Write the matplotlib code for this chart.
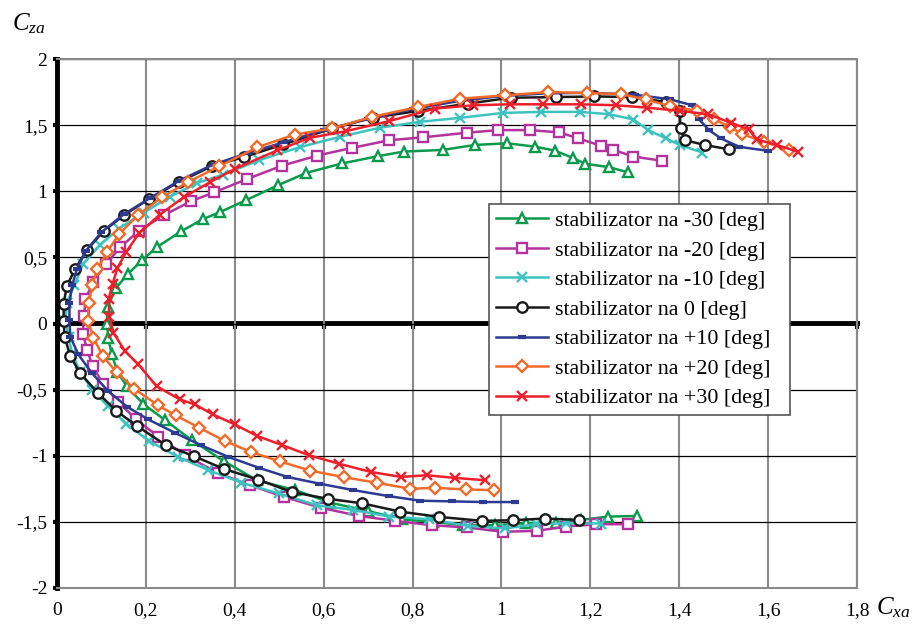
import numpy as np
import matplotlib
matplotlib.use("Agg")
import matplotlib.pyplot as plt

plt.rcParams['font.family'] = ['Liberation Serif', 'DejaVu Serif']
plt.rcParams['mathtext.fontset'] = 'custom'
plt.rcParams['mathtext.rm'] = 'Liberation Serif'
plt.rcParams['mathtext.it'] = 'Liberation Serif:italic'

# Cxa / Cza polars, one per stabilizer setting (lower branch -> nose -> upper branch)
cx_m30 = [1.305, 1.24, 1.18, 1.122, 1.055, 0.985, 0.914, 0.845, 0.776, 0.699, 0.615, 0.536,
          0.45, 0.375, 0.303, 0.243, 0.193, 0.157, 0.136, 0.123, 0.115, 0.113, 0.114, 0.133,
          0.16, 0.191, 0.224, 0.279, 0.329, 0.366, 0.425, 0.497, 0.561, 0.641, 0.722, 0.78,
          0.868, 0.94, 1.013, 1.075, 1.12, 1.162, 1.189, 1.242, 1.285]
cz_m30 = [-1.455, -1.46, -1.485, -1.51, -1.51, -1.525, -1.525, -1.5, -1.48, -1.4175, -1.355, -1.26,
          -1.186, -1.04, -0.882, -0.73, -0.605, -0.474, -0.368, -0.229, -0.108, 0.0, 0.126, 0.27,
          0.376, 0.477, 0.576, 0.697, 0.79, 0.841, 0.932, 1.045, 1.139, 1.21, 1.265, 1.30,
          1.3125, 1.35, 1.3625, 1.3375, 1.3075, 1.25, 1.2075, 1.1825, 1.1425]

cx_m20 = [1.284, 1.213, 1.146, 1.08, 1.004, 0.923, 0.843, 0.761, 0.679, 0.593, 0.511, 0.434,
          0.363, 0.288, 0.228, 0.178, 0.138, 0.104, 0.08, 0.068, 0.058, 0.061, 0.064, 0.081,
          0.111, 0.142, 0.185, 0.24, 0.301, 0.354, 0.428, 0.507, 0.586, 0.664, 0.748, 0.823,
          0.922, 0.993, 1.064, 1.13, 1.173, 1.225, 1.252, 1.297, 1.362]
cz_m20 = [-1.5175, -1.5175, -1.535, -1.5675, -1.575, -1.5425, -1.525, -1.4925, -1.455, -1.3925, -1.312, -1.222,
          -1.133, -0.995, -0.856, -0.725, -0.594, -0.461, -0.322, -0.20, -0.076, 0.056, 0.182, 0.316,
          0.452, 0.576, 0.702, 0.818, 0.924, 0.992, 1.093, 1.194, 1.27, 1.328, 1.386, 1.4075,
          1.4425, 1.4625, 1.4625, 1.445, 1.40, 1.3425, 1.3125, 1.2625, 1.23]

cx_m10 = [1.224, 1.146, 1.077, 1.008, 0.925, 0.836, 0.748, 0.667, 0.585, 0.499, 0.415, 0.34,
          0.273, 0.206, 0.156, 0.115, 0.079, 0.052, 0.034, 0.026, 0.019, 0.022, 0.039, 0.058,
          0.096, 0.139, 0.195, 0.255, 0.316, 0.374, 0.455, 0.546, 0.636, 0.726, 0.817, 0.907,
          1.004, 1.09, 1.177, 1.243, 1.297, 1.33, 1.37, 1.401, 1.452]
cz_m10 = [-1.5125, -1.51, -1.5175, -1.55, -1.53, -1.48, -1.46, -1.41, -1.375, -1.285, -1.204, -1.108,
          -1.01, -0.886, -0.758, -0.626, -0.5, -0.366, -0.227, -0.101, 0.018, 0.157, 0.288, 0.447,
          0.591, 0.717, 0.838, 0.96, 1.063, 1.126, 1.235, 1.333, 1.411, 1.48, 1.525, 1.555,
          1.5925, 1.60, 1.60, 1.5825, 1.5425, 1.4625, 1.40, 1.35, 1.2925]

cx_0 = [1.174, 1.097, 1.025, 0.957, 0.86, 0.772, 0.687, 0.609, 0.529, 0.452, 0.376, 0.308,
        0.245, 0.181, 0.133, 0.092, 0.052, 0.03, 0.017, 0.015, 0.015, 0.022, 0.041, 0.068,
        0.105, 0.151, 0.208, 0.274, 0.349, 0.42, 0.509, 0.619, 0.711, 0.813, 0.924, 1.021,
        1.122, 1.208, 1.294, 1.371, 1.401, 1.403, 1.412, 1.457, 1.512]
cz_0 = [-1.485, -1.475, -1.4875, -1.4925, -1.4625, -1.4225, -1.36, -1.325, -1.275, -1.18, -1.10, -1.003,
        -0.92, -0.777, -0.66, -0.525, -0.376, -0.247, -0.10, 0.018, 0.149, 0.283, 0.414, 0.558,
        0.70, 0.82, 0.943, 1.07, 1.19, 1.258, 1.354, 1.475, 1.556, 1.6075, 1.6625, 1.707,
        1.712, 1.717, 1.712, 1.675, 1.607, 1.475, 1.387, 1.35, 1.317]

cx_p10 = [1.03, 0.959, 0.888, 0.817, 0.746, 0.667, 0.589, 0.518, 0.455, 0.385, 0.325, 0.265,
          0.205, 0.158, 0.115, 0.078, 0.048, 0.03, 0.028, 0.028, 0.034, 0.045, 0.065, 0.10,
          0.15, 0.21, 0.275, 0.35, 0.43, 0.51, 0.60, 0.70, 0.80, 0.90, 1.0, 1.1,
          1.2, 1.3, 1.38, 1.428, 1.445, 1.467, 1.494, 1.535, 1.599]
cz_p10 = [-1.35, -1.35, -1.345, -1.34, -1.305, -1.26, -1.21, -1.16, -1.092, -1.008, -0.922, -0.826,
          -0.725, -0.63, -0.511, -0.373, -0.234, -0.10, 0.023, 0.152, 0.288, 0.414, 0.55, 0.69,
          0.825, 0.95, 1.08, 1.20, 1.29, 1.37, 1.46, 1.55, 1.62, 1.68, 1.72, 1.74,
          1.745, 1.73, 1.695, 1.651, 1.543, 1.462, 1.399, 1.336, 1.306]

cx_p20 = [0.983, 0.92, 0.851, 0.795, 0.721, 0.646, 0.57, 0.501, 0.437, 0.378, 0.32, 0.267,
          0.228, 0.174, 0.134, 0.103, 0.082, 0.07, 0.071, 0.079, 0.091, 0.112, 0.14, 0.183,
          0.237, 0.294, 0.365, 0.451, 0.535, 0.619, 0.709, 0.813, 0.907, 1.008, 1.105, 1.192,
          1.269, 1.325, 1.379, 1.44, 1.479, 1.514, 1.542, 1.59, 1.647]
cz_p20 = [-1.26, -1.255, -1.2425, -1.25, -1.205, -1.1625, -1.1125, -1.0425, -0.972, -0.889, -0.788, -0.695,
          -0.62, -0.494, -0.368, -0.247, -0.108, 0.022, 0.152, 0.288, 0.414, 0.538, 0.677, 0.823,
          0.957, 1.068, 1.189, 1.333, 1.429, 1.475, 1.563, 1.6375, 1.70, 1.725, 1.75, 1.7425,
          1.735, 1.694, 1.644, 1.608, 1.543, 1.487, 1.432, 1.374, 1.311]

cx_p30 = [0.963, 0.895, 0.832, 0.774, 0.706, 0.634, 0.566, 0.507, 0.45, 0.4, 0.351, 0.31,
          0.276, 0.224, 0.183, 0.153, 0.127, 0.118, 0.116, 0.125, 0.136, 0.155, 0.185, 0.231,
          0.286, 0.344, 0.4, 0.496, 0.569, 0.651, 0.747, 0.85, 0.937, 1.019, 1.093, 1.178,
          1.258, 1.327, 1.402, 1.464, 1.516, 1.557, 1.574, 1.621, 1.667]
cz_p30 = [-1.185, -1.1675, -1.1475, -1.16, -1.1225, -1.06, -0.995, -0.92, -0.85, -0.763, -0.688, -0.612,
          -0.574, -0.474, -0.31, -0.209, -0.07, 0.05, 0.182, 0.30, 0.42, 0.538, 0.684, 0.823,
          0.957, 1.068, 1.169, 1.31, 1.404, 1.455, 1.53, 1.625, 1.65, 1.6575, 1.6575, 1.6575,
          1.65, 1.6325, 1.6075, 1.583, 1.518, 1.467, 1.392, 1.349, 1.298]

labels = ['stabilizator na -30 [deg]', 'stabilizator na -20 [deg]', 'stabilizator na -10 [deg]',
          'stabilizator na 0 [deg]', 'stabilizator na +10 [deg]', 'stabilizator na +20 [deg]',
          'stabilizator na +30 [deg]']
xticks = [0, 0.2, 0.4, 0.6, 0.8, 1.0, 1.2, 1.4, 1.6, 1.8]
yticks = [-2, -1.5, -1, -0.5, 0, 0.5, 1, 1.5, 2]

series = [(cx_m30, cz_m30), (cx_m20, cz_m20), (cx_m10, cz_m10), (cx_0, cz_0),
          (cx_p10, cz_p10), (cx_p20, cz_p20), (cx_p30, cz_p30)]
colors = ['#0a9a4c', '#b4329e', '#3cc3c0', '#1a1a1a', '#2c3a92', '#f26a2a', '#ec1f2b']
markers = ['^', 's', 'x', 'o', '_', 'D', 'x']
msizes = [7.5, 7.5, 7, 7.5, 6, 6, 7.5]

fig = plt.figure(figsize=(9.16, 6.26), dpi=100)
ax = fig.add_axes([57/916, 1-588/626, 800/916, 529/626])

for (x, y), c, m, ms, lab in zip(series, colors, markers, msizes, labels):
    mew = 3 if m == '_' else 1.7
    ax.plot(x, y, color=c, lw=1.8, marker=m, ms=ms, mfc='white', mec=c, mew=mew, label=lab)

def fmt(v):
    return ('%g' % v).replace('.', ',')

ax.set_xlim(0, 1.8)
ax.set_ylim(-2, 2)
ax.set_xticks(xticks)
ax.set_yticks(yticks)
ax.set_xticklabels([fmt(v) for v in xticks], fontsize=14)
ax.set_yticklabels([fmt(v) for v in yticks], fontsize=14)
ax.tick_params(axis='x', length=0, pad=10)
ax.tick_params(axis='y', direction='out', length=3, width=3, pad=4)

# grid: grey verticals, thin black horizontals
ax.grid(axis='x', color='#8a8a8a', lw=1.5)
ax.grid(axis='y', color='black', lw=0.9)
ax.set_axisbelow(True)
for side in ['top', 'right', 'bottom']:
    ax.spines[side].set_color('#8a8a8a')
    ax.spines[side].set_linewidth(1.5)
ax.spines['left'].set_linewidth(3.5)
ax.spines['left'].set_color('black')

# heavy Cx axis through Cz = 0
sec = ax.secondary_xaxis(0.5)
for side in ['top', 'bottom']:
    sec.spines[side].set_linewidth(3.5)
    sec.spines[side].set_color('black')
sec.set_xticks(xticks)
sec.set_xticklabels([])
sec.tick_params(direction='in', length=4, width=3, labeltop=False, labelbottom=False)

fig.text(12/916, 1-24/626, r'$C_{za}$', fontsize=18, va='center', ha='left')
fig.text(876/916, 1-608/626, r'$C_{xa}$', fontsize=18, va='center', ha='left')

leg = ax.legend(loc='upper left', bbox_to_anchor=(489/916, 1-414/626, 301/916, 210/626),
                bbox_transform=fig.transFigure, mode='expand', borderaxespad=0,
                fontsize=15.8, fancybox=False, framealpha=1, edgecolor='#555555',
                handlelength=2.4, labelspacing=0.42, borderpad=0.3, handletextpad=0.3)
leg.get_frame().set_linewidth(1.2)

fig.savefig('out.png', dpi=100)
